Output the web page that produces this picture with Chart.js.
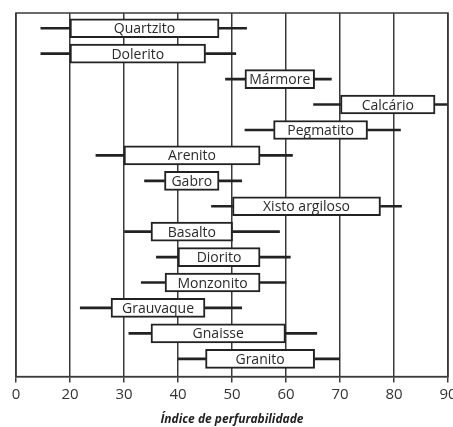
<!DOCTYPE html>
<html>
<head>
<meta charset="utf-8">
<script src="https://cdn.jsdelivr.net/npm/chart.js@4"></script>
<style>
  html, body { margin: 0; padding: 0; background: #fff; overflow: hidden; }
  canvas { display: block; }
</style>
</head>
<body>
<canvas id="chart" width="460" height="427"></canvas>
<script>
// rock types, top to bottom
const categories = ['Quartzito','Dolerito','Mármore','Calcário','Pegmatito','Arenito','Gabro',
  'Xisto argiloso','Basalto','Diorito','Monzonito','Grauvaque','Gnaisse','Granito'];
const whiskerLow  = [14.6, 14.6, 48.8, 65.1, 52.4, 24.8, 33.8, 46.2, 30.1, 36.0, 33.2, 21.9, 30.9, 40.0];
const boxLow      = [20.0, 20.0, 52.4, 70.1, 57.7, 30.0, 37.5, 50.1, 35.0, 40.0, 37.6, 27.6, 35.0, 45.1];
const boxHigh     = [47.6, 45.1, 65.3, 87.6, 75.1, 55.2, 47.6, 77.5, 50.1, 55.2, 55.2, 45.0, 59.9, 65.3];
const whiskerHigh = [52.7, 50.7, 68.4, 90.0, 81.2, 61.2, 51.8, 81.4, 58.8, 60.8, 60.0, 51.8, 65.7, 69.9];
// axis starts at 10 but the first tick is printed as "0" (broken axis in the original)
const tickLabels = {10:'0', 20:'20', 30:'30', 40:'40', 50:'50', 60:'60', 70:'70', 80:'80', 90:'90'};

const FONT = "'Open Sans', sans-serif";
const LINE = '#3a3a3a';

const rows = (lo, hi) => categories.map((c, i) => ({ x: [lo[i], hi[i]], y: i }));

// box labels + frame
const boxLabels = {
  id: 'boxLabels',
  afterDatasetsDraw(chart) {
    const ctx = chart.ctx;
    const a = chart.chartArea;
    ctx.save();
    ctx.strokeStyle = LINE;
    ctx.lineWidth = 1.5;
    ctx.strokeRect(a.left, a.top, a.right - a.left, a.bottom - a.top);
    ctx.fillStyle = '#2a2a2a';
    ctx.font = '14px ' + FONT;
    ctx.textAlign = 'center';
    ctx.textBaseline = 'middle';
    chart.getDatasetMeta(0).data.forEach((el, i) => {
      ctx.fillText(categories[i], (el.x + el.base) / 2, el.y + 1);
    });
    ctx.restore();
  }
};

new Chart(document.getElementById('chart'), {
  type: 'bar',
  data: {
    datasets: [
      { data: rows(boxLow, boxHigh), backgroundColor: '#fff', borderColor: '#222',
        borderWidth: 2, borderSkipped: false, barThickness: 19, grouped: false },
      { data: rows(whiskerLow, boxLow), backgroundColor: '#222', borderWidth: 0,
        barThickness: 2, grouped: false },
      { data: rows(boxHigh, whiskerHigh), backgroundColor: '#222', borderWidth: 0,
        barThickness: 2, grouped: false }
    ]
  },
  options: {
    indexAxis: 'y',
    responsive: false,
    animation: false,
    layout: { padding: { left: 16, right: 12, top: 13, bottom: 0 } },
    plugins: { legend: { display: false }, tooltip: { enabled: false } },
    scales: {
      y: { type: 'linear', reverse: true, offset: false, min: -0.6, max: 13.7, display: false },
      x: {
        type: 'linear', min: 10, max: 90,
        ticks: { stepSize: 10, padding: 3, color: '#333',
          font: { family: FONT, size: 15 },
          callback: v => tickLabels[v] },
        grid: { color: LINE, lineWidth: 1.5, tickLength: 6, tickColor: LINE },
        border: { color: LINE, width: 1.5 },
        title: { display: true, text: 'Índice de perfurabilidade', color: '#222',
          padding: { top: 6, bottom: 0 },
          font: { family: FONT, size: 12, weight: 'bold', style: 'italic' } }
      }
    }
  },
  plugins: [boxLabels]
});
</script>
</body>
</html>
